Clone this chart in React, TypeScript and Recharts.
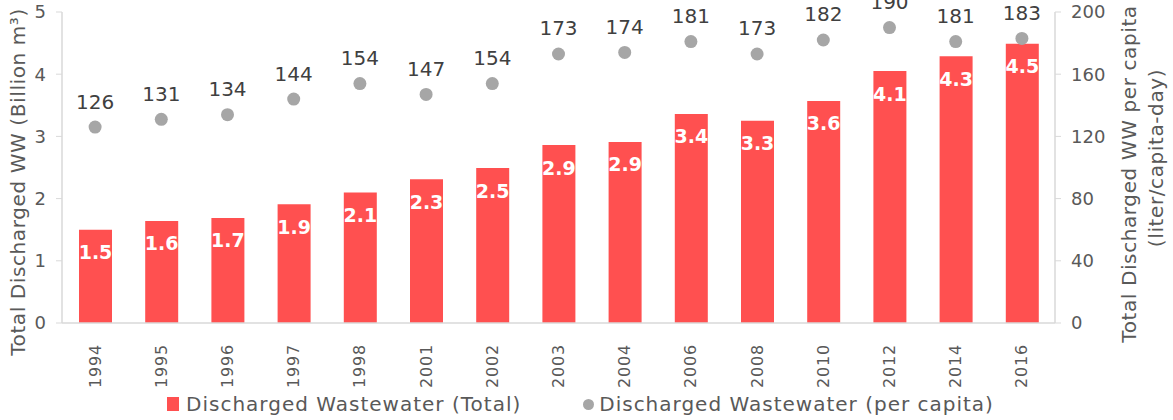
import React from 'react';
import {
  ComposedChart,
  Bar,
  Scatter,
  XAxis,
  YAxis,
  LabelList,
  Legend,
} from 'recharts';

const years = ['1994', '1995', '1996', '1997', '1998', '2001', '2002', '2003', '2004', '2006', '2008', '2010', '2012', '2014', '2016'];
const totalWW = [1.5, 1.64, 1.69, 1.91, 2.1, 2.31, 2.49, 2.86, 2.91, 3.36, 3.25, 3.57, 4.05, 4.29, 4.49];
const totalLabels = ['1.5', '1.6', '1.7', '1.9', '2.1', '2.3', '2.5', '2.9', '2.9', '3.4', '3.3', '3.6', '4.1', '4.3', '4.5'];
const perCapita = [126, 131, 134, 144, 154, 147, 154, 173, 174, 181, 173, 182, 190, 181, 183];
const leftTicks = [0, 1, 2, 3, 4, 5];
const rightTicks = [0, 40, 80, 120, 160, 200];

const data = years.map((year, i) => ({
  year,
  total: totalWW[i],
  totalLabel: totalLabels[i],
  perCapita: perCapita[i],
}));

const FONT = '"DejaVu Sans", sans-serif';
const RED = '#ff5050';
const GREY_DOT = '#a6a6a6';
const AXIS_LINE = '#d9d9d9';
const TICK = '#595959';

const tickStyle = { fill: TICK, fontSize: 18, fontFamily: FONT };

function YearTick({ x, y, payload }: any) {
  const ty = y + 13;
  return (
    <text
      x={x}
      y={ty}
      transform={`rotate(-90, ${x}, ${ty})`}
      textAnchor="end"
      dominantBaseline="central"
      fill={TICK}
      fontSize={16}
      letterSpacing={0.8}
      fontFamily={FONT}
    >
      {payload.value}
    </text>
  );
}

function Dot({ cx, cy }: any) {
  return <circle cx={cx} cy={cy} r={6.5} fill={GREY_DOT} />;
}

function LegendContent() {
  return (
    <div
      style={{
        display: 'flex',
        justifyContent: 'center',
        fontFamily: FONT,
        fontSize: 20,
        letterSpacing: 1,
        color: TICK,
        marginLeft: -12,
        marginTop: 4,
      }}
    >
      <span style={{ display: 'flex', alignItems: 'center', marginRight: 62 }}>
        <span style={{ width: 12, height: 14, background: RED, display: 'inline-block', marginRight: 7 }} />
        Discharged Wastewater (Total)
      </span>
      <span style={{ display: 'flex', alignItems: 'center' }}>
        <span style={{ width: 11, height: 11, borderRadius: 6, background: GREY_DOT, display: 'inline-block', marginRight: 5 }} />
        Discharged Wastewater (per capita)
      </span>
    </div>
  );
}

export default function App() {
  return (
    <div style={{ position: 'absolute', left: 0, top: 0, width: 1173, height: 420, background: '#fff' }}>
      <ComposedChart
        width={1173}
        height={420}
        data={data}
        margin={{ top: 12, right: 0, bottom: 0, left: 0 }}
      >
        <XAxis
          dataKey="year"
          height={65}
          tick={<YearTick />}
          tickLine={false}
          axisLine={{ stroke: AXIS_LINE, strokeWidth: 1.5 }}
          interval={0}
        />
        <YAxis
          yAxisId="left"
          domain={[0, 5]}
          ticks={leftTicks}
          width={62}
          tick={tickStyle}
          tickLine={{ stroke: AXIS_LINE }}
          tickSize={6}
          tickMargin={10}
          axisLine={{ stroke: AXIS_LINE, strokeWidth: 1.5 }}
          label={() => {
            const cx = 18;
            const cy = 182;
            return (
              <text
                x={cx}
                y={cy}
                transform={`rotate(-90, ${cx}, ${cy})`}
                textAnchor="middle"
                dominantBaseline="central"
                fill={TICK}
                fontSize={20}
                letterSpacing={0.6}
                fontFamily={FONT}
              >
                Total Discharged WW (Billion m³)
              </text>
            );
          }}
        />
        <YAxis
          yAxisId="right"
          orientation="right"
          domain={[0, 200]}
          ticks={rightTicks}
          width={118}
          tick={tickStyle}
          tickLine={{ stroke: AXIS_LINE }}
          tickSize={6}
          tickMargin={10}
          axisLine={{ stroke: AXIS_LINE, strokeWidth: 1.5 }}
          label={() => {
            const x1 = 1129;
            const x2 = 1156;
            return (
              <g>
                <text
                  x={x1}
                  y={174}
                  transform={`rotate(-90, ${x1}, 174)`}
                  textAnchor="middle"
                  dominantBaseline="central"
                  fill={TICK}
                  fontSize={20}
                  letterSpacing={0.6}
                  fontFamily={FONT}
                >
                  Total Discharged WW per capita
                </text>
                <text
                  x={x2}
                  y={158}
                  transform={`rotate(-90, ${x2}, 158)`}
                  textAnchor="middle"
                  dominantBaseline="central"
                  fill={TICK}
                  fontSize={20}
                  letterSpacing={0.6}
                  fontFamily={FONT}
                >
                  (liter/capita-day)
                </text>
              </g>
            );
          }}
        />
        <Legend
          verticalAlign="bottom"
          height={32}
          content={<LegendContent />}
        />
        <Bar yAxisId="left" dataKey="total" fill={RED} barSize={33} isAnimationActive={false}>
          <LabelList
            dataKey="totalLabel"
            position="insideTop"
            offset={16}
            fill="#ffffff"
            fontSize={19}
            fontWeight="bold"
            fontFamily={FONT}
          />
        </Bar>
        <Scatter yAxisId="right" dataKey="perCapita" shape={<Dot />} isAnimationActive={false}>
          <LabelList
            dataKey="perCapita"
            position="top"
            offset={14}
            fill="#404040"
            fontSize={20}
            fontFamily={FONT}
          />
        </Scatter>
      </ComposedChart>
    </div>
  );
}
